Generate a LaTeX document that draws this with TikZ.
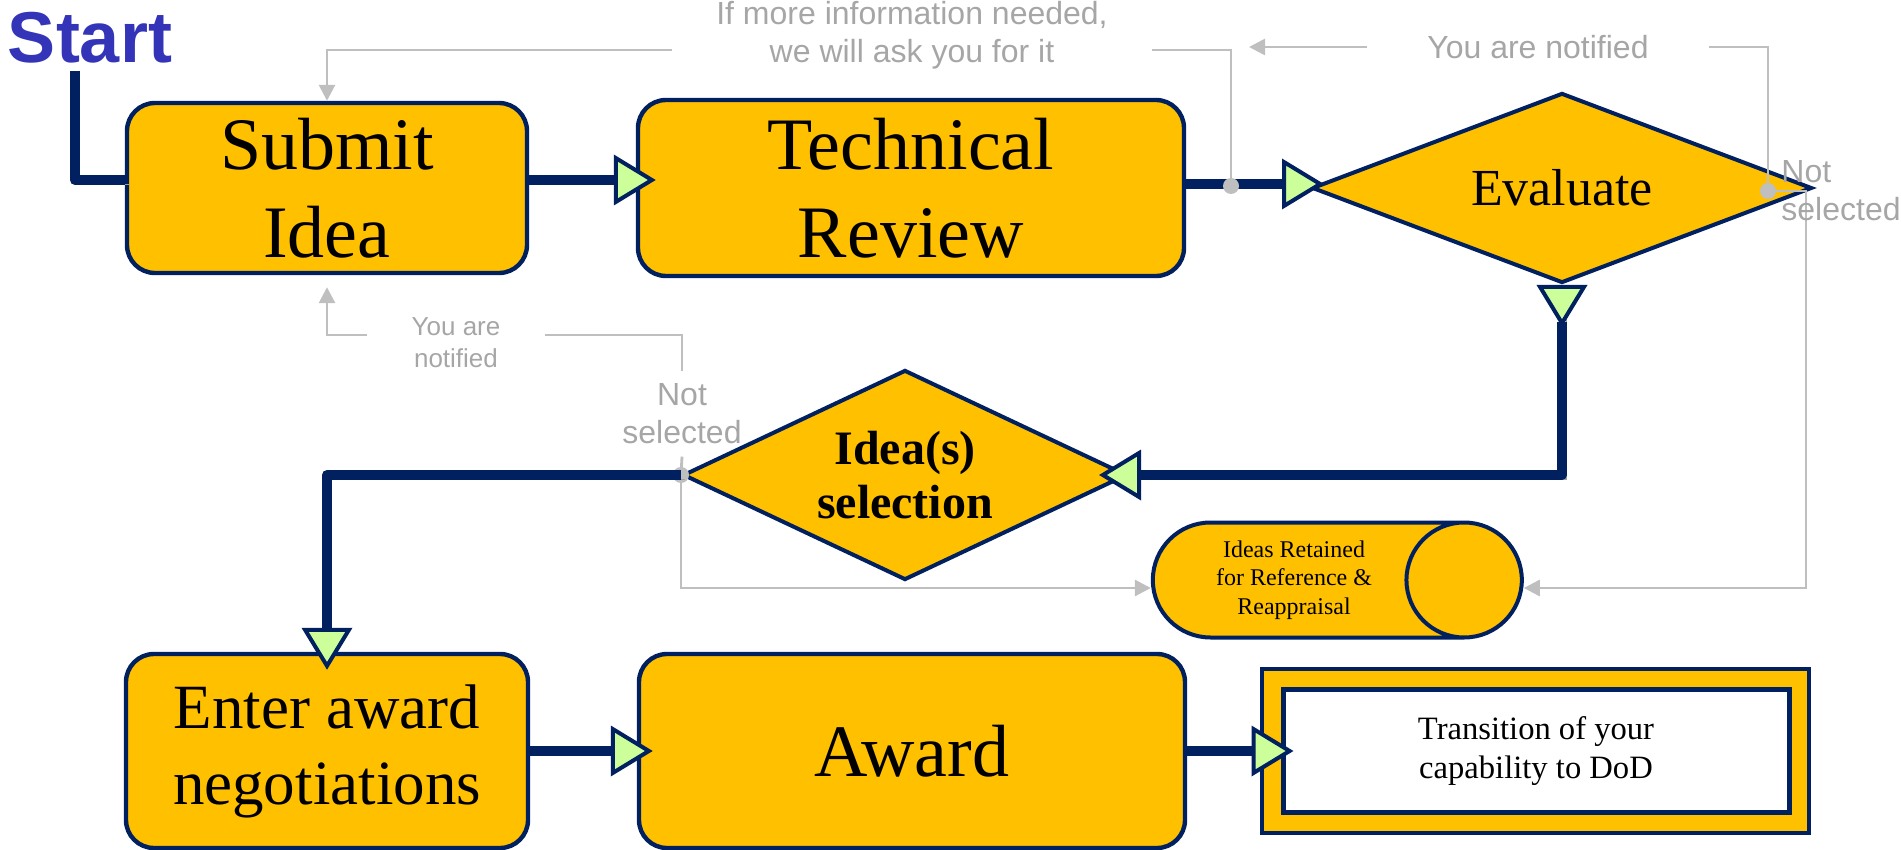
\documentclass[tikz,border=0pt]{standalone}
\usepackage{fontspec}
\setmainfont{Liberation Serif}
\newfontfamily\lsans{Liberation Sans}
\usetikzlibrary{shapes.geometric,arrows.meta}

\definecolor{gold}{HTML}{FFC000}
\definecolor{navy}{HTML}{002060}
\definecolor{tipgreen}{HTML}{CCFF99}
\definecolor{linegray}{HTML}{BFBFBF}
\definecolor{textgray}{HTML}{A6A6A6}
\definecolor{shadowgray}{HTML}{A0A0A0}
\definecolor{startblue}{HTML}{3434B8}

\tikzset{
  procbox/.style={rectangle, rounded corners=14pt, draw=navy, line width=2.2pt,
    fill=gold, align=center, font=\fontsize{37}{44}\selectfont},
  decide/.style={diamond, draw=navy, line width=2pt, fill=gold, align=center, inner sep=0pt},
  flow/.style={line width=5pt, draw=navy, line join=round,
    preaction={draw=shadowgray, -, shorten >=0pt, shorten <=0pt,
      transform canvas={shift={(2pt,-2pt)}}}},
  gtri/.tip={Triangle[length=21pt, width=25pt, line width=2pt, fill=tipgreen]},
  gtriback/.tip={Triangle[reversed, length=21pt, width=25pt, line width=2pt, fill=tipgreen]},
  ntip/.tip={Triangle[length=8pt, width=8pt]},
  note/.style={font=\lsans\fontsize{16}{19}\selectfont, text=textgray, align=center,
    inner xsep=22pt, inner ysep=6pt},
  noteline/.style={draw=linegray, line width=1.4pt},
}

\begin{document}
\begin{tikzpicture}[x=0.5pt,y=-0.5pt]
  \useasboundingbox (0,0) rectangle (1901,850);

  % boxes
  \node[font=\lsans\bfseries\fontsize{36}{38}\selectfont, text=startblue] (start) at (90,38) {Start};
  \node[procbox, minimum width=200pt, minimum height=85pt] (submit) at (327,188) {Submit\\Idea};
  \node[procbox, minimum width=273pt, minimum height=88pt] (tech) at (911,188) {Technical\\Review};
  \node[decide, aspect=2.6, minimum width=250pt, minimum height=95pt,
    font=\fontsize{26}{30}\selectfont] (eval) at (1562,188) {Evaluate};
  \node[decide, aspect=2.1, minimum width=222pt, minimum height=105pt,
    font=\bfseries\fontsize{24}{27}\selectfont] (sel) at (905,475) {Idea(s)\\selection};
  \node[cylinder, shape aspect=1.25, draw=navy, line width=2pt, fill=gold,
    minimum width=57.5pt, minimum height=184.5pt, align=center,
    font=\fontsize{12}{14.3}\selectfont] (retained) at (1294,580)
    {Ideas Retained\\for Reference \&\\Reappraisal};
  \node[procbox, minimum width=201pt, minimum height=97pt,
    font=\fontsize{31.5}{38}\selectfont] (enter) at (327,751) {Enter award\\negotiations};
  \node[procbox, minimum width=273pt, minimum height=97pt] (award) at (912,751) {Award};
  \node[rectangle, draw=navy, line width=2pt, fill=gold,
    minimum width=273.5pt, minimum height=82pt] (trans) at (1535,751) {};
  \node[rectangle, draw=navy, line width=2.5pt, fill=white,
    minimum width=253pt, minimum height=61.5pt, align=center,
    font=\fontsize{16.3}{19.5}\selectfont] (transIn) at (1536,751) {Transition of your\\capability to DoD};

  % grey notes
  \coordinate (dotA) at (1231,186);
  \coordinate (dotB) at (1768,191);
  \node[note] (info) at (912,35) {If more information needed,\\we will ask you for it};
  \draw[noteline] (dotA) |- ([yshift=-7.5pt]info.east);
  \draw[noteline, -ntip] ([yshift=-7.5pt]info.west) -| (submit.north);
  \node[note, inner xsep=30pt] (notif1) at (1538,47) {You are notified};
  \draw[noteline] (dotB) |- (notif1.east);
  \draw[noteline, -ntip, shorten >=9pt] (notif1.west) -- (notif1.west -| dotA);
  \draw[noteline, -ntip] (dotB) -- ++(38,0) |- ([yshift=-4pt]retained.east);
  \node[note, anchor=west, align=left, inner xsep=2pt] (nsEval) at (1777,191) {Not\\selected};

  \node[note] (nsSel) at (682,414) {Not\\selected};
  \node[note, font=\lsans\fontsize{13}{16}\selectfont] (notif2) at (456,343) {You are\\notified};
  \draw[noteline] (sel.west) -- (nsSel.south);
  \draw[noteline] (nsSel.north) |- ([yshift=4pt]notif2.east);
  \draw[noteline, -ntip, shorten >=6pt] ([yshift=4pt]notif2.west) -| (submit.south);
  \draw[noteline, -ntip] (sel.west) |- ([yshift=-4pt]retained.west);
  \fill[linegray] (sel.west) circle (4pt);

  % main flow
  \draw[flow] ([xshift=-7.5pt]start.south) |- ([yshift=4pt]submit.west);
  \draw[flow, -gtri, shorten >=-10pt] ([yshift=4pt]submit.east) -- ([yshift=4pt]submit.east -| tech.west);
  \draw[flow, -gtri, shorten >=-7pt] ([yshift=2pt]tech.east) -- ([yshift=2pt]tech.east -| eval.west);
  \draw[flow, gtriback-gtri, shorten >=-15pt] (eval.south) |- (sel.east);
  \draw[flow, -gtri, shorten >=-9pt] (sel.west) -| (enter.north);
  \draw[flow, -gtri, shorten >=-8pt] (enter) -- (award);
  \draw[flow, -gtri, shorten >=-17pt] (award) -- (trans);

  \fill[linegray] (dotA) circle (4pt);
  \fill[linegray] (dotB) circle (4pt);
\end{tikzpicture}
\end{document}
